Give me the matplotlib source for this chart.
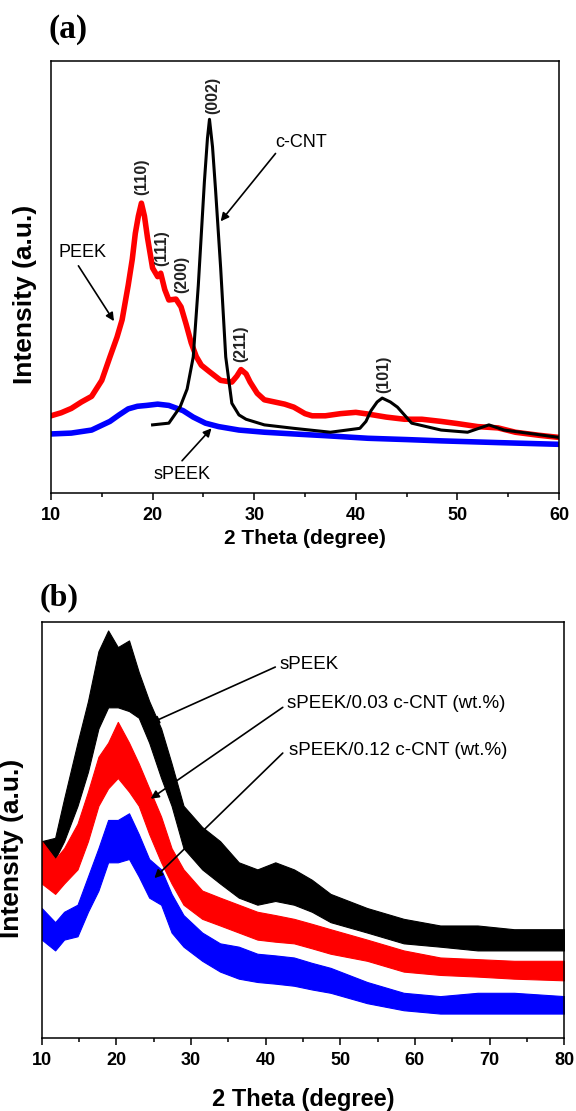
import matplotlib
matplotlib.use("Agg")
import matplotlib.pyplot as plt
from matplotlib.ticker import MultipleLocator

plt.rcParams['font.family'] = ['Liberation Sans', 'DejaVu Sans']

# ---- panel (a) data (intensity in a.u., 0-100 = axis height)
peek_x = [10, 11, 12, 13, 14, 15, 15.8, 16.5, 17, 17.6, 18, 18.3, 18.6, 18.9, 19.2,
          19.5, 20, 20.5, 20.8, 21.2, 21.6, 22.3, 22.8, 23.3, 23.8, 24.3, 24.8, 25.6,
          26.7, 27.8, 28.3, 28.7, 29.2, 29.6, 30.3, 31, 32, 33, 33.9, 35, 35.7, 37,
          38.5, 40, 41.2, 43, 44.8, 46.5, 48.4, 50, 52, 54, 55.7, 58, 60]
peek_y = [17.8, 18.5, 19.5, 21, 22.3, 26, 31.4, 36, 40, 48, 54, 60, 64, 67, 64,
          59, 52, 50, 50.8, 47, 44.6, 44.8, 43, 39, 34.7, 31.5, 29.5, 28,
          26, 25.6, 27, 28.5, 27.5, 25.6, 23, 21.5, 21, 20.5, 19.8, 18.3, 17.8, 17.8,
          18.3, 18.6, 18.2, 17.5, 17, 17, 16.5, 16, 15.3, 15, 14, 13.3, 12.8]

speek_x = [10, 12, 14, 15.8, 16.7, 17.6, 18.5, 19.4, 20.5, 21.6, 23, 24, 25.2, 26.5,
           28.5, 31, 33.9, 37, 41.2, 45, 48.4, 54, 60]
speek_y = [13.6, 13.8, 14.5, 16.5, 18, 19.4, 20, 20.2, 20.5, 20.2, 19, 17.5, 16.1, 15.3,
           14.5, 14, 13.6, 13.2, 12.6, 12.3, 12, 11.6, 11.2]

cnt_x = [20, 21.6, 22.7, 23.4, 24, 24.5, 24.8, 25.1, 25.4, 25.6, 25.9, 26.2, 26.7,
         27.2, 27.8, 28.5, 29.2, 31, 33.9, 37.5, 40.4, 41, 41.5, 42.1, 42.6, 43.4, 44.1,
         45.5, 48.4, 51, 53.1, 54.6, 57.5, 60]
cnt_y = [15.7, 16.1, 19.8, 24, 31.4, 48, 60, 72, 82, 86.4, 80, 70, 52,
         31.4, 20.7, 18, 17, 15.7, 14.9, 14, 14.9, 16.5, 19, 21, 21.9, 21, 19.8,
         16.1, 14.5, 14, 15.7, 14.5, 13.6, 12.8]

peak_labels = ['(110)', '(111)', '(200)', '(002)', '(211)', '(101)']
peak_x = [18.9, 20.9, 22.9, 25.9, 28.7, 42.8]
peak_y = [69, 52.5, 46.3, 87.6, 30.2, 23.1]

# ---- panel (b) data: noisy traces given as lower / upper envelope
b_x = [10, 11.8, 13, 14.8, 16.2, 17.6, 18.9, 20.2, 21.7, 23, 24.4, 26, 27.4, 29,
       31.5, 33.9, 36.4, 38.9, 41.3, 43.8, 46.2, 48.7, 53.6, 58.5, 63.4, 68.4, 73.3, 80]
s0_hi = [47.3, 48.1, 57.5, 71, 81, 93, 98, 94, 95.6, 88, 81, 74.4, 66, 55.8,
         50.7, 47.3, 42.2, 40.5, 42.2, 40.5, 38, 34.6, 31.2, 28.6, 27, 27, 26.1, 26.1]
s0_lo = [41.4, 43, 47.3, 55.8, 64, 74.4, 79.5, 79.5, 78.6, 77, 71, 62.5, 55.8, 45.6,
         40.5, 37.1, 33.7, 32, 32.9, 32, 30.3, 27.8, 25.3, 22.7, 21.9, 21, 21, 21]
s3_hi = [47.3, 43, 45.6, 51.5, 59.2, 67.6, 71, 76, 71, 66, 60, 53.2, 45.6, 40.5,
         35.4, 33.7, 32, 30.3, 29.5, 28.6, 27.4, 26.1, 23.6, 21, 19.3, 18.9, 18.5, 18.5]
s3_lo = [37.1, 34.6, 37.1, 40.5, 47.3, 55.8, 60, 62.5, 59.2, 55.8, 49, 42.2, 37.1, 32,
         28.6, 27, 25.3, 23.6, 23.1, 22.7, 21.5, 20.2, 18.5, 15.9, 15.1, 14.7, 14.2, 13.8]
s12_hi = [31.2, 27.8, 30.3, 32, 38.8, 45.6, 52.4, 52.4, 54, 49, 43, 40.5, 34.6, 29.5,
          25.3, 22.7, 21.9, 20.2, 19.8, 19.3, 18, 16.8, 13.4, 10.8, 10, 10.8, 10.8, 10]
s12_lo = [23.6, 21, 23.6, 24.4, 30.3, 35.4, 42.2, 42.2, 43, 38.8, 33.7, 32, 25.3, 21.9,
          18.5, 15.9, 14.2, 13.4, 13, 12.5, 11.6, 10.8, 8.3, 6.6, 5.8, 5.8, 5.8, 5.8]

fig = plt.figure(figsize=(5.76, 11.11), dpi=100)


def style_axes(ax, xmax):
    ax.set_xlim(10, xmax)
    ax.set_ylim(0, 100)
    ax.set_yticks([])
    ax.xaxis.set_major_locator(MultipleLocator(10))
    ax.xaxis.set_minor_locator(MultipleLocator(5))
    ax.tick_params(axis='x', which='major', direction='out', length=5, width=1.1,
                   labelsize=13, pad=5, top=False)
    ax.tick_params(axis='x', which='minor', direction='out', length=3, width=1.1, top=False)
    for lab in ax.get_xticklabels():
        lab.set_fontweight('bold')
    for s in ax.spines.values():
        s.set_linewidth(1.1)


arrow = dict(arrowstyle='-|>', color='k', lw=1.2, mutation_scale=12, shrinkA=0, shrinkB=0)

# ---------------- panel (a)
ax1 = fig.add_axes([0.0885, 0.5565, 0.882, 0.389])
ax1.plot(speek_x, speek_y, color='#0000ff', lw=4, solid_joinstyle='round')
ax1.plot(peek_x, peek_y, color='#ff0000', lw=4, solid_joinstyle='round')
ax1.plot(cnt_x, cnt_y, color='black', lw=2.2, solid_joinstyle='round')
for lab, px, py in zip(peak_labels, peak_x, peak_y):
    ax1.text(px, py, lab, rotation=90, ha='center', va='bottom', fontsize=11.5,
             fontweight='bold', color='#222222')
ax1.text(32.1, 81, 'c-CNT', fontsize=13, ha='left', va='center')
ax1.annotate('', xy=(26.7, 62.8), xytext=(32.1, 78.5), arrowprops=arrow)
ax1.text(10.7, 55.6, 'PEEK', fontsize=13, ha='left', va='center')
ax1.annotate('', xy=(16.2, 39.7), xytext=(12.7, 52.5), arrowprops=arrow)
ax1.text(20.1, 4.2, 'sPEEK', fontsize=13, ha='left', va='center')
ax1.annotate('', xy=(25.8, 14.9), xytext=(22.9, 7.4), arrowprops=arrow)
style_axes(ax1, 60)
ax1.set_xlabel('2 Theta (degree)', fontsize=15, fontweight='bold', labelpad=4)
ax1.set_ylabel('Intensity (a.u.)', fontsize=19, fontweight='bold')
ax1.yaxis.set_label_coords(-0.028, 0.46)
fig.text(68 / 576, 1 - 29.5 / 1111, '(a)', family='Liberation Serif', fontsize=24,
         fontweight='bold', ha='center', va='center')

# ---------------- panel (b)
ax2 = fig.add_axes([0.0724, 0.066, 0.907, 0.374])
ax2.fill_between(b_x, s0_lo, s0_hi, color='black', lw=0.8)
ax2.fill_between(b_x, s3_lo, s3_hi, color='#ff0000', lw=0.8)
ax2.fill_between(b_x, s12_lo, s12_hi, color='#0000ff', lw=0.8)
ax2.text(41.9, 89.7, 'sPEEK', fontsize=13.5, ha='left', va='center')
ax2.annotate('', xy=(24.6, 75.7), xytext=(41.3, 89.2), arrowprops=arrow)
ax2.text(42.9, 80.5, 'sPEEK/0.03 c-CNT (wt.%)', fontsize=13.5, ha='left', va='center')
ax2.annotate('', xy=(24.6, 57.5), xytext=(42.3, 79.5), arrowprops=arrow)
ax2.text(43.2, 69, 'sPEEK/0.12 c-CNT (wt.%)', fontsize=13.5, ha='left', va='center')
ax2.annotate('', xy=(25.1, 38.4), xytext=(42.3, 68.5), arrowprops=arrow)
style_axes(ax2, 80)
ax2.set_xlabel('2 Theta (degree)', fontsize=17, fontweight='bold', labelpad=14)
ax2.set_ylabel('Intensity (a.u.)', fontsize=19, fontweight='bold')
ax2.yaxis.set_label_coords(-0.033, 0.455)
fig.text(59.5 / 576, 1 - 598 / 1111, '(b)', family='Liberation Serif', fontsize=23,
         fontweight='bold', ha='center', va='center')

fig.savefig('out.png', dpi=100)
